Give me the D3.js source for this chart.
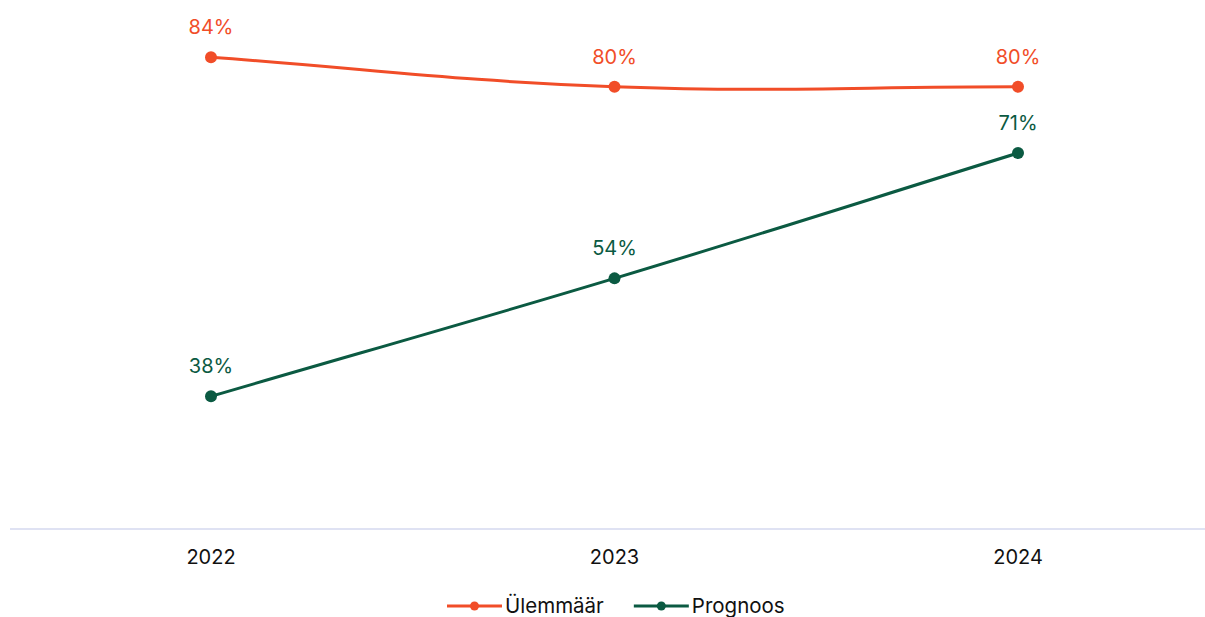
<!DOCTYPE html>
<html>
<head>
<meta charset="utf-8">
<script src="https://cdn.jsdelivr.net/npm/d3@7"></script>
<style>
  body { margin: 0; background: #fff; }
  svg { display: block; font-family: Inter, "Noto Sans", sans-serif; }
</style>
</head>
<body>
<svg id="chart"></svg>
<script>
const w = 1205;
const h = 617;

// data
const years = ["2022", "2023", "2024"];
const seriesNames = ["Ülemmäär", "Prognoos"];
const ulemmaar = [84, 80, 80];
const prognoos = [38, 54, 71];
const seriesColors = ["#f14d28", "#0b5a42"];

const svg = d3.select("#chart")
  .attr("width", w)
  .attr("height", h)
  .attr("viewBox", [0, 0, w, h]);

const x = d3.scalePoint()
  .domain(years)
  .range([211, 1018]);

const y = d3.scaleLinear()
  .domain([20, 90])
  .range([529, 13]);

// bottom axis: just the baseline and the year labels
svg.append("line")
  .attr("x1", 10)
  .attr("x2", w)
  .attr("y1", y(20))
  .attr("y2", y(20))
  .attr("stroke", "#dfe2f3")
  .attr("stroke-width", 2);

svg.append("g")
  .selectAll("text")
  .data(years)
  .join("text")
  .attr("x", d => x(d))
  .attr("y", 564)
  .attr("text-anchor", "middle")
  .attr("font-size", 20)
  .attr("fill", "#111")
  .text(d => d);

// chart.js style spline (tension 0.4)
function splinePath(pts, tension) {
  const p = d3.path();
  const cps = pts.map((cur, i) => {
    const prev = pts[i - 1] || cur;
    const next = pts[i + 1] || cur;
    const d01 = Math.hypot(cur[0] - prev[0], cur[1] - prev[1]);
    const d12 = Math.hypot(next[0] - cur[0], next[1] - cur[1]);
    let s01 = d01 / (d01 + d12 || 1);
    let s12 = d12 / (d01 + d12 || 1);
    const fa = tension * s01;
    const fb = tension * s12;
    return {
      prev: [cur[0] - fa * (next[0] - prev[0]), cur[1] - fa * (next[1] - prev[1])],
      next: [cur[0] + fb * (next[0] - prev[0]), cur[1] + fb * (next[1] - prev[1])]
    };
  });
  p.moveTo(pts[0][0], pts[0][1]);
  for (let i = 1; i < pts.length; i++) {
    p.bezierCurveTo(cps[i - 1].next[0], cps[i - 1].next[1],
      cps[i].prev[0], cps[i].prev[1], pts[i][0], pts[i][1]);
  }
  return p.toString();
}

const series = [ulemmaar, prognoos];

series.forEach((vals, si) => {
  const color = seriesColors[si];
  const pts = vals.map((v, i) => [x(years[i]), y(v)]);
  const g = svg.append("g");

  g.append("path")
    .attr("d", splinePath(pts, 0.4))
    .attr("fill", "none")
    .attr("stroke", color)
    .attr("stroke-width", 3);

  g.selectAll("circle")
    .data(vals)
    .join("circle")
    .attr("cx", (d, i) => x(years[i]))
    .attr("cy", d => y(d))
    .attr("r", 6)
    .attr("fill", color);

  g.selectAll("text")
    .data(vals)
    .join("text")
    .attr("x", (d, i) => x(years[i]))
    .attr("y", d => y(d) - 23)
    .attr("text-anchor", "middle")
    .attr("font-size", 20)
    .attr("fill", color)
    .text(d => d + "%");
});

// legend
const legend = svg.append("g");
const items = legend.selectAll("g")
  .data(seriesNames)
  .join("g");

items.append("line")
  .attr("x1", 0).attr("x2", 55)
  .attr("y1", 0).attr("y2", 0)
  .attr("stroke", (d, i) => seriesColors[i])
  .attr("stroke-width", 3);
items.append("circle")
  .attr("cx", 27.5).attr("cy", 0).attr("r", 4.5)
  .attr("fill", (d, i) => seriesColors[i]);
items.append("text")
  .attr("x", 58)
  .attr("y", 7)
  .attr("font-size", 20.5)
  .attr("fill", "#111")
  .text(d => d);

let offset = 0;
const itemGap = 30;
const widths = [];
items.each(function() {
  widths.push(58 + d3.select(this).select("text").node().getComputedTextLength());
});
const total = d3.sum(widths) + itemGap * (widths.length - 1);
let start = 447;
items.attr("transform", (d, i) => {
  const tx = start + offset;
  offset += widths[i] + itemGap;
  return `translate(${tx},606)`;
});
</script>
</body>
</html>
